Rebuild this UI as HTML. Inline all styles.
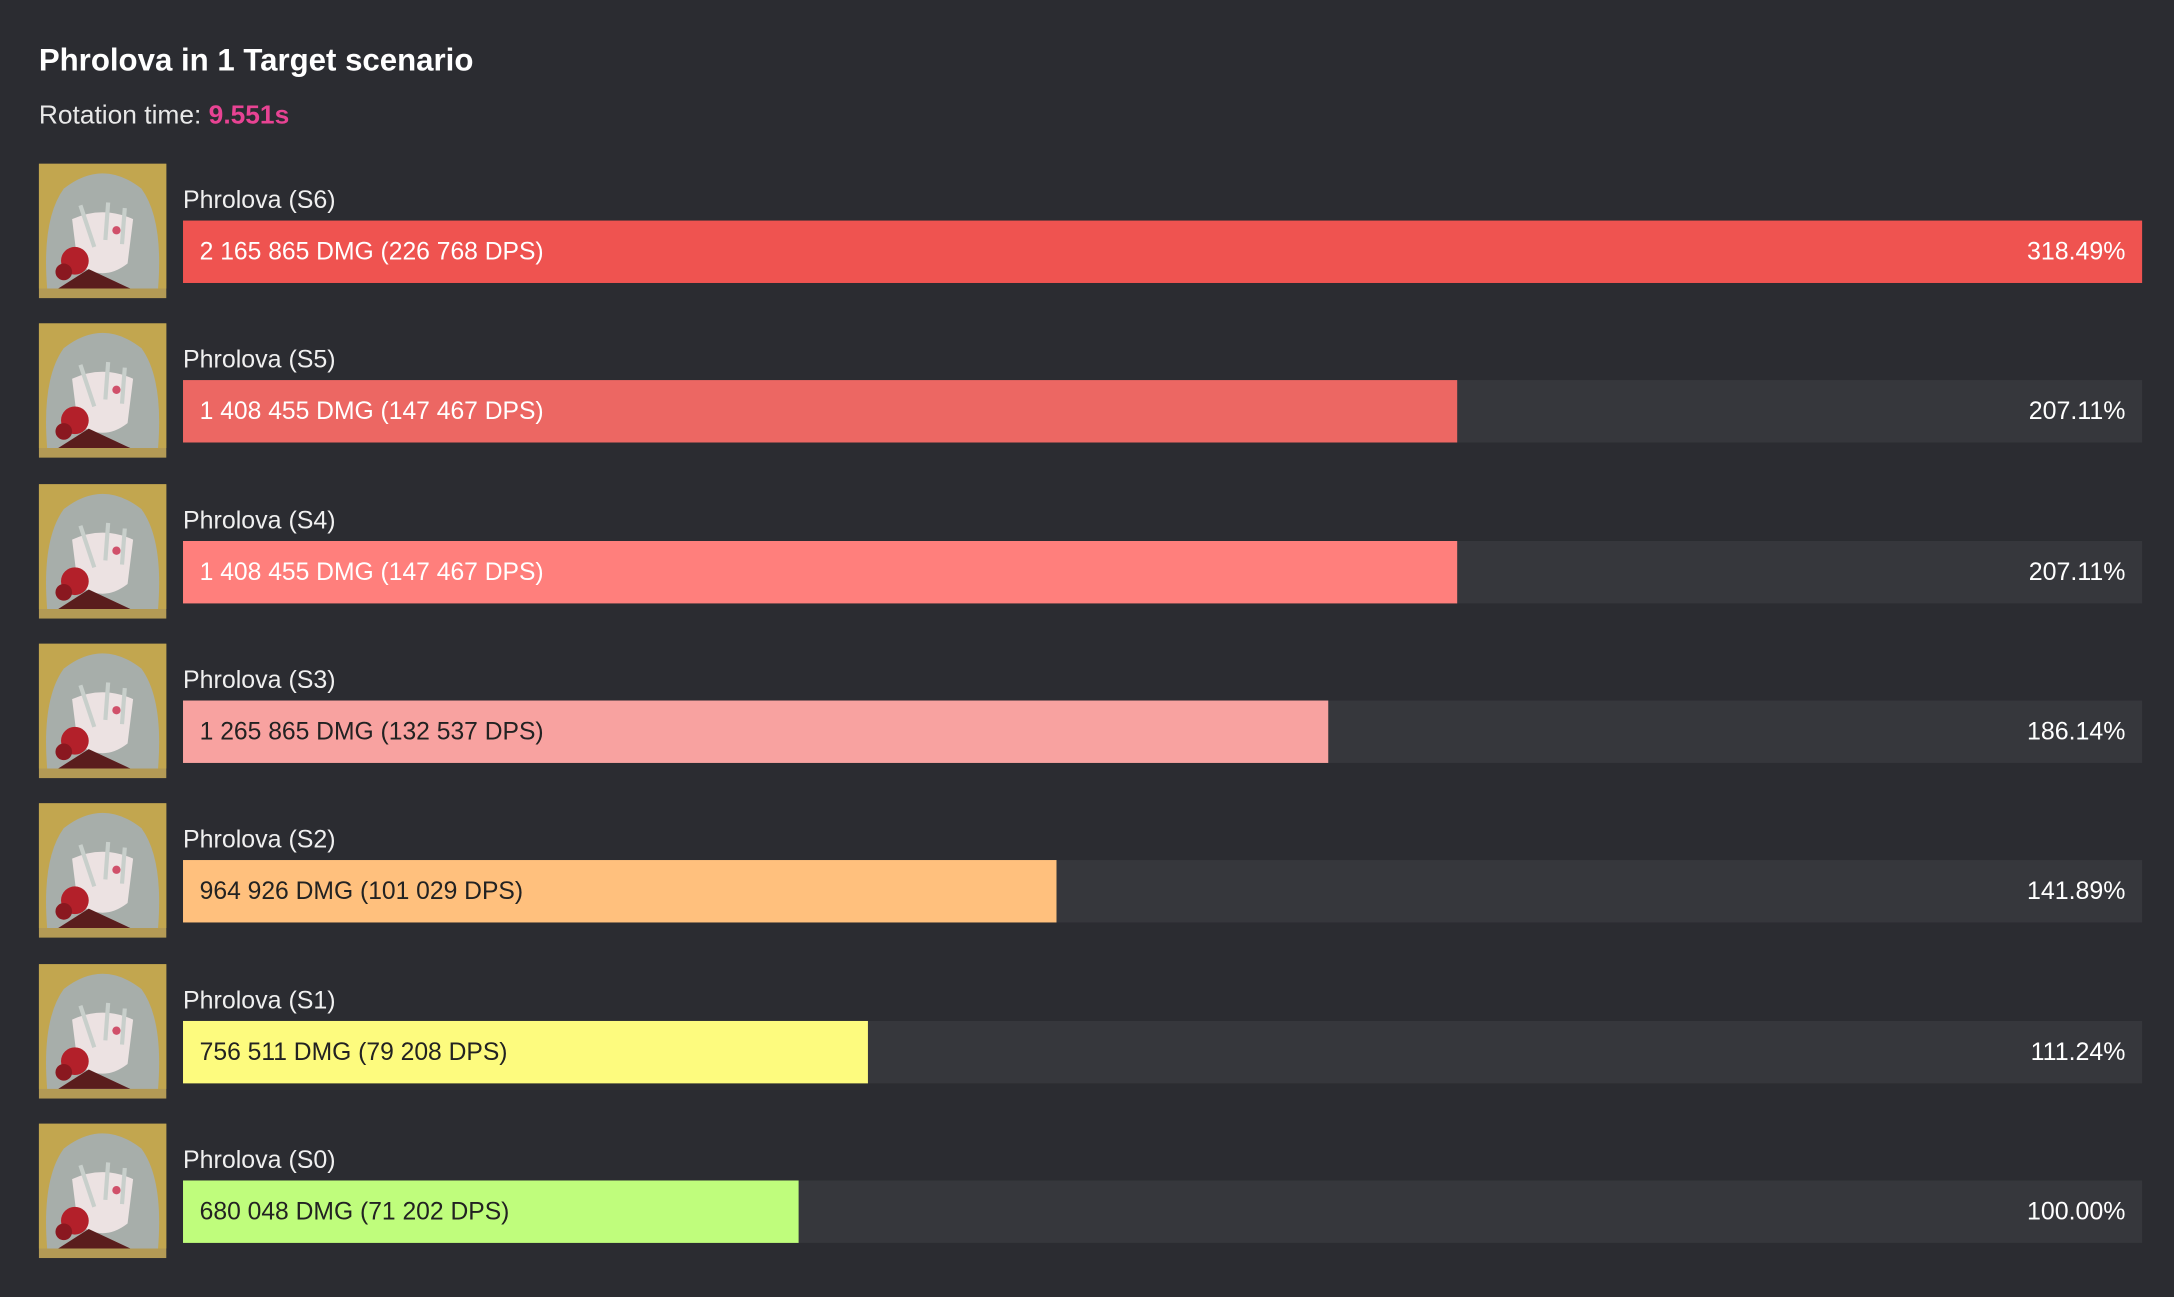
<!DOCTYPE html>
<html><head><meta charset="utf-8"><style>
html,body{margin:0;padding:0;background:#2b2c31;width:2174px;height:1297px;overflow:hidden;font-family:"Liberation Sans",sans-serif;color:#fff}
#wrap{position:absolute;left:0;top:0;width:1568px;height:935px;transform:scale(1.38648,1.38717);transform-origin:0 0}
.abs{position:absolute}
#title{left:28px;top:30px;font-size:22.5px;font-weight:bold;line-height:28px}
#rot{left:28px;top:72px;font-size:19px;color:#e8e8e8;line-height:24px}
#rot b{color:#e84393}
.lbl{font-size:18px;color:#f0f0f0;white-space:nowrap;line-height:22px}
.track{background:#36373c}
.bartxt{font-size:17.8px;white-space:nowrap;line-height:45px}
.pct{font-size:18px;line-height:45px;text-align:right}
</style></head><body>
<div id="wrap">
<div id="title" class="abs">Phrolova in 1 Target scenario</div>
<div id="rot" class="abs">Rotation time: <b>9.551s</b></div>
<div id="chart"></div>
</div>
<script>
const labels=["Phrolova (S6)","Phrolova (S5)","Phrolova (S4)","Phrolova (S3)","Phrolova (S2)","Phrolova (S1)","Phrolova (S0)"];
const dmg=[2165865,1408455,1408455,1265865,964926,756511,680048];
const dps=[226768,147467,147467,132537,101029,79208,71202];
const pcts=["318.49%","207.11%","207.11%","186.14%","141.89%","111.24%","100.00%"];
const colors=["#ef5350","#ec6763","#ff7f7c","#f8a2a0","#ffc07d","#fdfb7e","#bffd7c"];
const textColors=["#fff","#fff","#fff","#222","#222","#222","#222"];
const chart=document.getElementById('chart');
const X0=132,X1=1545,Y0=159,PITCH=115.3,BH=45;
const maxV=Math.max(...dps);
const xs=v=>(v/maxV)*(X1-X0);
const fmt=n=>String(n).replace(/\B(?=(\d{3})+(?!\d))/g,' ');
function avatar(){return `<svg width="92" height="97" viewBox="0 0 92 97"><rect width="92" height="97" fill="#b39a55"/><rect width="92" height="90" fill="#c2a64f"/><path d="M6 90 Q2 40 18 18 Q46 -4 74 18 Q90 40 86 90Z" fill="#a7aeaa"/><path d="M24 40 Q46 30 68 40 L64 72 Q46 86 28 72Z" fill="#ece2e2"/><path d="M30 30 L40 60 M50 28 L48 55 M62 32 L60 58" stroke="#c8cfcb" stroke-width="3"/><circle cx="56" cy="48" r="3" fill="#d0506a"/><path d="M14 90 L36 76 L66 90Z" fill="#5a1d1d"/><circle cx="26" cy="70" r="10" fill="#b3202a"/><circle cx="18" cy="78" r="6" fill="#8a1820"/></svg>`}
labels.forEach((l,i)=>{
  const y=Y0+i*PITCH;
  const av=document.createElement('div');av.className='abs';av.style.cssText=`left:28px;top:${y-41}px;width:92px;height:97px`;av.innerHTML=avatar();
  
  
  chart.appendChild(av);
  const lb=document.createElement('div');lb.className='abs lbl';lb.style.cssText=`left:132px;top:${y-26}px`;lb.textContent=l;
  
  
  chart.appendChild(lb);
  const tr=document.createElement('div');tr.className='abs track';tr.style.cssText=`left:${X0}px;top:${y}px;width:${X1-X0}px;height:${BH}px`;
  
  
  chart.appendChild(tr);
  const b=document.createElement('div');b.className='abs';b.style.cssText=`left:${X0}px;top:${y}px;width:${xs(dps[i])}px;height:${BH}px;background:${colors[i]}`;
  
  
  chart.appendChild(b);
  const t=document.createElement('div');t.className='abs bartxt';t.style.cssText=`left:${X0+12}px;top:${y}px;color:${textColors[i]}`;t.textContent=`${fmt(dmg[i])} DMG (${fmt(dps[i])} DPS)`;
  
  
  chart.appendChild(t);
  const p=document.createElement('div');p.className='abs pct';p.style.cssText=`left:${X1-212}px;width:200px;top:${y}px;color:#fff`;p.textContent=pcts[i];
  
  
  chart.appendChild(p);
});
</script>
</body></html>
